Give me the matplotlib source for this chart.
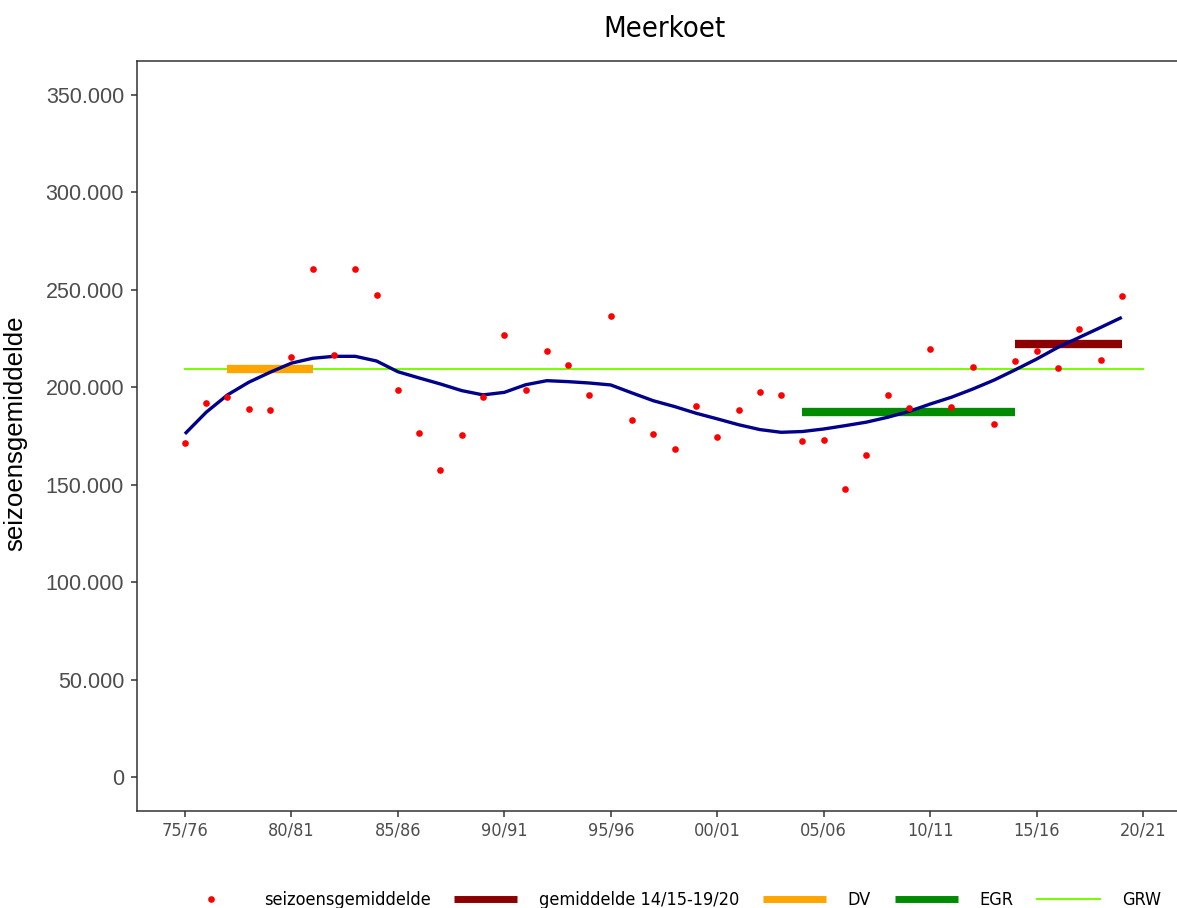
import numpy as np
import matplotlib
matplotlib.use('Agg')
import matplotlib.pyplot as plt
from matplotlib import font_manager
from matplotlib.lines import Line2D

# Seizoensgemiddelden Meerkoet, seizoenen 75/76 t/m 19/20
seizoenen = np.arange(1975, 2020)
seizoensgemiddelde = [171300, 191800, 195200, 189000, 188200, 215400, 260800, 216400, 260800, 247300,
                      198600, 176600, 157500, 175400, 195000, 226800, 198600, 218600, 211400, 196100,
                      236500, 183200, 175900, 168400, 190400, 174700, 188500, 197700, 196100, 172500,
                      173200, 147900, 165200, 196200, 189500, 219600, 190100, 210600, 181000, 213300,
                      218600, 210000, 230000, 214100, 246900]

# Trendlijn
trend = [176100, 187200, 196100, 202600, 207700, 212400, 214900, 215900, 215900, 213500,
         208000, 204800, 201700, 198300, 196100, 197400, 201300, 203400, 202900, 202200,
         201200, 197100, 193100, 190100, 186700, 183800, 180800, 178300, 176900, 177300,
         178600, 180300, 182100, 184600, 187600, 191400, 194900, 199100, 203700, 209000,
         214500, 220500, 225600, 230700, 235900]

# Referentieniveaus: (begin, eind, waarde)
gem_1419 = (2014, 2019, 222300)
dv = (1977, 1981, 209400)
egr = (2004, 2014, 187200)
grw = (1975, 2020, 209400)

tick_jaren = np.arange(1975, 2021, 5)
tick_labels = ['75/76', '80/81', '85/86', '90/91', '95/96', '00/01', '05/06', '10/11', '15/16', '20/21']
y_ticks = np.arange(0, 350001, 50000)


def pick_narrow():
    names = {f.name for f in font_manager.fontManager.ttflist}
    for f in font_manager.fontManager.ttflist:
        if f.name == 'DejaVu Sans' and 'ondensed' in f.fname:
            return {'family': 'DejaVu Sans', 'stretch': 'condensed'}
    for n in ['Liberation Sans Narrow', 'Roboto Condensed', 'Open Sans Condensed']:
        if n in names:
            return {'family': n}
    return {'family': 'DejaVu Sans'}


narrow = pick_narrow()
arial = {'family': 'Liberation Sans'}

fig = plt.figure(figsize=(11.77, 9.08), dpi=100)
ax = fig.add_axes([137 / 1177, 97 / 908, (1191 - 137) / 1177, 750 / 908])

ax.plot(seizoenen, seizoensgemiddelde, 'o', color='#FF0000', markersize=4.8, markeredgewidth=0, zorder=5)
ax.plot(seizoenen, trend, color='#00008B', lw=2.4, zorder=4, solid_capstyle='butt', solid_joinstyle='round')

ax.plot([grw[0], grw[1]], [grw[2], grw[2]], color='#7CFC00', lw=1.5, zorder=2)
for seg, kleur in [(dv, '#FFA500'), (egr, '#008B00'), (gem_1419, '#8B0000')]:
    ax.plot([seg[0], seg[1]], [seg[2], seg[2]], color=kleur, lw=6, solid_capstyle='butt', zorder=3)

ax.set_xlim(1972.75, 2022.25)
ax.set_ylim(-17500, 367500)

ax.set_yticks(y_ticks)
ax.set_yticklabels([f'{v:,.0f}'.replace(',', '.') for v in y_ticks], fontdict=arial, fontsize=15.5, color='#4D4D4D')
ax.set_xticks(tick_jaren)
ax.set_xticklabels(tick_labels, fontdict=narrow, fontsize=13, color='#4D4D4D')
ax.tick_params(axis='y', length=4.3, width=1.1, color='#333333', pad=5)
ax.tick_params(axis='x', length=4.3, width=1.1, color='#333333', pad=3)

for s in ax.spines.values():
    s.set_color('#333333')
    s.set_linewidth(1.1)

ax.set_ylabel('seizoensgemiddelde', fontdict=arial, fontsize=18.6, color='black')
ax.yaxis.set_label_coords(27 / 1177, 1 - 433 / 908, transform=fig.transFigure)
fig.text(664 / 1177, 1 - 29 / 908, 'Meerkoet', ha='center', va='center', fontsize=21, color='black', **narrow)

handles = [
    Line2D([], [], marker='o', color='#FF0000', linestyle='none', markersize=4.8, markeredgewidth=0),
    Line2D([], [], color='#8B0000', lw=5, solid_capstyle='butt'),
    Line2D([], [], color='#FFA500', lw=5, solid_capstyle='butt'),
    Line2D([], [], color='#008B00', lw=5, solid_capstyle='butt'),
    Line2D([], [], color='#7CFC00', lw=1.5),
]
labels = ['seizoensgemiddelde', 'gemiddelde 14/15-19/20', 'DV', 'EGR', 'GRW']
leg = fig.legend(handles, labels, loc='center', bbox_to_anchor=(670 / 1177, 8 / 908), ncol=5,
                 frameon=False, handlelength=3.5, handletextpad=1.2, columnspacing=1.3,
                 prop=font_manager.FontProperties(size=13, **narrow))

fig.savefig('out.png', dpi=100)
